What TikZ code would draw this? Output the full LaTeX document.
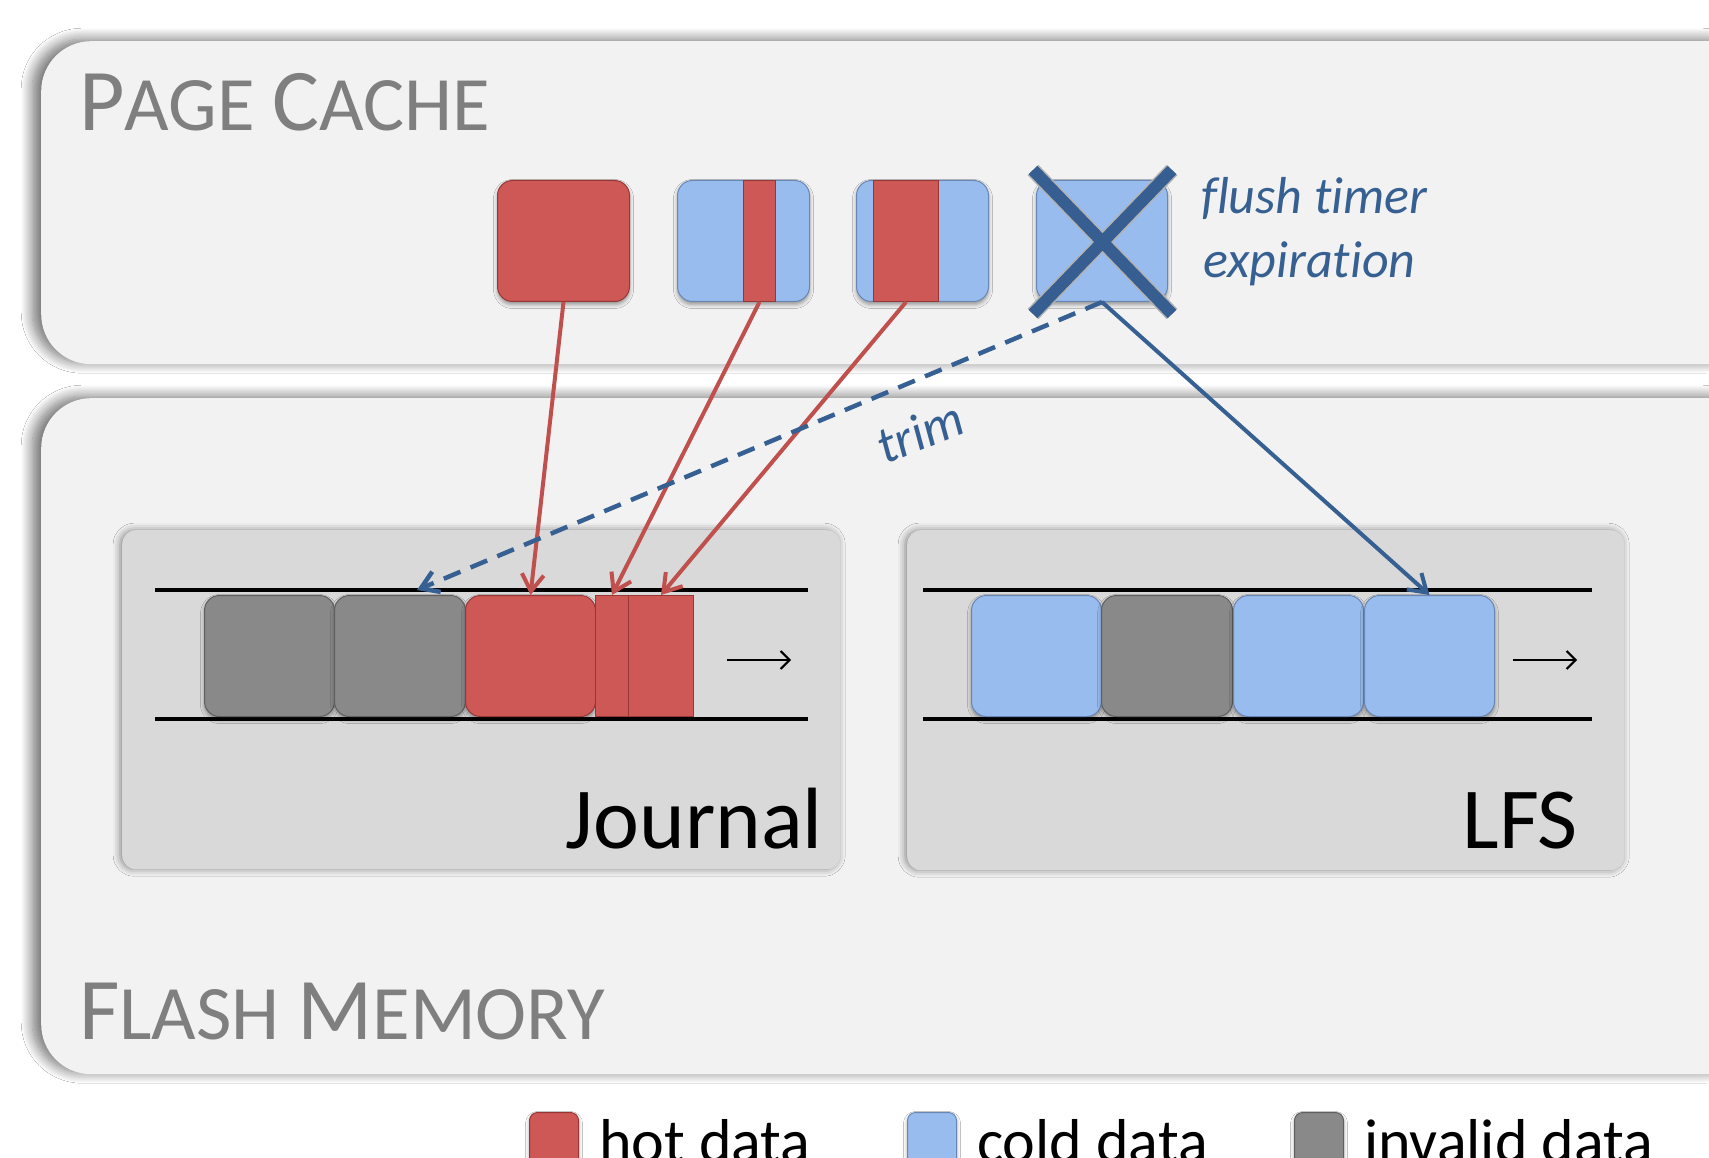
\documentclass[tikz,border=0pt]{standalone}
\usepackage{fontspec}
\setmainfont[Ligatures={NoCommon,NoContextual,NoRare}]{Carlito}
\usetikzlibrary{arrows.meta,shadows.blur,calc}
\definecolor{hot}{RGB}{206,88,86}
\definecolor{hotedge}{RGB}{150,55,53}
\definecolor{cold}{RGB}{152,188,238}
\definecolor{coldedge}{RGB}{105,135,180}
\definecolor{inv}{RGB}{137,137,137}
\definecolor{invedge}{RGB}{95,95,95}
\definecolor{xblue}{RGB}{54,94,145}
\definecolor{ablue}{RGB}{55,96,146}
\definecolor{ared}{RGB}{192,80,77}
\definecolor{boxlight}{RGB}{242,242,242}
\definecolor{boxdark}{RGB}{217,217,217}
\definecolor{titlegray}{RGB}{127,127,127}
\tikzset{
  outerbox/.style={fill=boxlight, rounded corners=50pt, inner sep=0pt, anchor=north west,
    blur shadow={shadow xshift=-9pt, shadow yshift=2pt, shadow blur radius=11pt, shadow blur steps=14, shadow opacity=55}},
  innerbox/.style={fill=boxdark, rounded corners=14pt, inner sep=0pt, anchor=north west,
    blur shadow={shadow xshift=-2pt, shadow yshift=0pt, shadow blur radius=7pt, shadow opacity=45}},
  block/.style={rounded corners=15pt, inner sep=0pt, anchor=north west, minimum height=121pt,
    line width=1pt, blur shadow={shadow xshift=0pt, shadow yshift=-3pt, shadow blur radius=4pt, shadow opacity=40}},
  hotblk/.style={block, fill=hot, draw=hotedge},
  coldblk/.style={block, fill=cold, draw=coldedge},
  invblk/.style={block, fill=inv, draw=invedge},
  stripe/.style={rounded corners=0pt, inner sep=0pt, anchor=north west, minimum height=121pt,
    fill=hot, draw=hotedge, line width=1pt},
  track/.style={line width=4pt, black},
  trackarrow/.style={line width=2pt, -{Straight Barb[length=9pt,width=18pt]}},
  hotarrow/.style={ared, line width=4pt, -{Straight Barb[length=17pt,width=22pt]}},
  coldarrow/.style={ablue, line width=4pt, -{Straight Barb[length=17pt,width=22pt]}},
  title/.style={text=titlegray, inner sep=0pt, anchor=base west},
  bigtext/.style={inner sep=0pt, anchor=base east, font=\fontsize{87}{87}\selectfont},
  note/.style={text=ablue, inner sep=0pt, font=\fontsize{52}{52}\selectfont\itshape},
  legendtext/.style={inner sep=0pt, anchor=base west, font=\fontsize{62}{62}\selectfont},
  legendbox/.style={rounded corners=8pt, minimum width=49pt, minimum height=70pt}
}
\newcommand{\bigsc}{\fontsize{88}{88}\selectfont}
\newcommand{\smallsc}{\fontsize{77}{77}\selectfont}
\begin{document}
\begin{tikzpicture}[x=1pt,y=-1pt]
\useasboundingbox (0,0) rectangle (1709,1158);
\clip (0,0) rectangle (1709,1158);
\fill[white] (0,0) rectangle (1709,1158);

% outer boxes
\node[outerbox, minimum width=1720pt, minimum height=323pt] (pc) at (41,41) {};
\node[outerbox, minimum width=1720pt, minimum height=676pt] (fm) at (41,398) {};
\node[title] (pctitle) at (79,131) {\bigsc P\smallsc AGE \bigsc C\smallsc ACHE};
\node[title] (fmtitle) at (79,1039) {\bigsc F\smallsc LASH \bigsc M\smallsc EMORY};

% inner boxes
\node[innerbox, minimum width=718pt, minimum height=339pt] (jb) at (122,530) {};
\node[innerbox, minimum width=717pt, minimum height=340pt] (lb) at (907,530) {};
\node[bigtext] (jt) at (823,848) {Journal};
\node[bigtext] (lt) at (1578,848) {LFS};

% tracks
\draw[track] (155,590) -- (808,590);
\draw[track] (155,719) -- (808,719);
\draw[track] (923,590) -- (1592,590);
\draw[track] (923,719) -- (1592,719);
\draw[trackarrow] (727,660) -- (791,660);
\draw[trackarrow] (1513,660) -- (1577,660);

% page cache blocks
\node[hotblk, minimum width=132pt] (b1) at (497,180) {};
\node[coldblk, minimum width=132pt] (b2) at (677,180) {};
\node[stripe, minimum width=32pt] (s2) at (743,180) {};
\node[coldblk, minimum width=132pt] (b3) at (856,180) {};
\node[stripe, minimum width=65pt] (s3) at (873,180) {};
\node[coldblk, minimum width=131pt] (b4) at (1036,180) {};
\draw[line width=15pt, gray!60] (1033,170) -- (1172,314) (1172,170) -- (1033,314);
\draw[line width=12pt, xblue] (1033,170) -- (1172,314) (1172,170) -- (1033,314);

% journal blocks
\node[invblk, minimum width=130pt] (g1) at (204,595) {};
\node[invblk, minimum width=131pt] (g2) at (334,595) {};
\node[hotblk, minimum width=130pt] (jr) at (465,595) {};
\node[stripe, minimum width=33pt] (js1) at (595,595) {};
\node[stripe, minimum width=65pt] (js2) at (628,595) {};

% LFS blocks
\node[coldblk, minimum width=130pt] (l1) at (971,595) {};
\node[invblk, minimum width=131pt] (l2) at (1101,595) {};
\node[coldblk, minimum width=130pt] (l3) at (1233,595) {};
\node[coldblk, minimum width=130pt] (l4) at (1364,595) {};

% notes
\node[note, anchor=base west] (ft1) at (1201,214) {flush timer};
\node[note, anchor=base west] (ft2) at (1203,278) {expiration};
\node[note, rotate=22] (trim) at (920,432) {trim};

% connectors
\coordinate (trimend) at (417,590);
\draw[hotarrow] (b1.south) -- (jr.north);
\draw[hotarrow] (s2.south) -- (js1.north);
\draw[hotarrow] (s3.south) -- (js2.north);
\draw[coldarrow] (b4.south) -- (l4.north);
\draw[coldarrow, line width=4.5pt, dash pattern=on 18pt off 11pt] (b4.south) -- (trimend);

% legend
\node[hotblk, legendbox, anchor=north west] (lh) at (529,1112) {};
\node[legendtext] (lht) at (599,1162) {hot data};
\node[coldblk, legendbox, anchor=north west] (lc) at (907,1112) {};
\node[legendtext] (lct) at (977,1162) {cold data};
\node[invblk, legendbox, anchor=north west] (li) at (1294,1112) {};
\node[legendtext] (lit) at (1364,1162) {invalid data};
\end{tikzpicture}
\end{document}
